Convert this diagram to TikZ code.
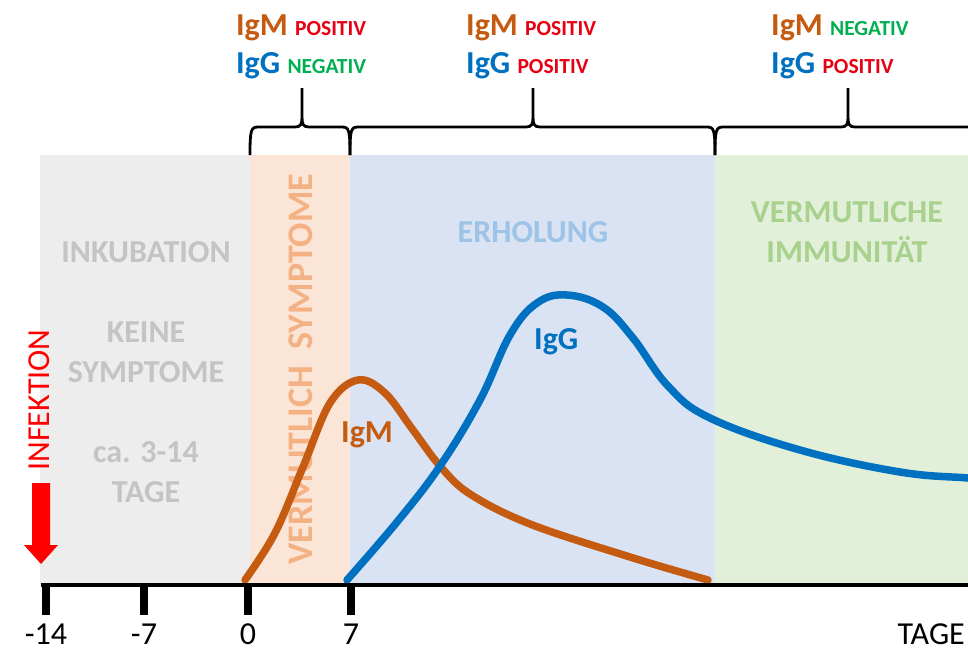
\documentclass[tikz,border=0pt]{standalone}
\usepackage{fontspec}
\setmainfont{Carlito}
\usetikzlibrary{positioning}

\definecolor{igmc}{RGB}{197,90,17}
\definecolor{iggc}{RGB}{0,112,192}
\definecolor{posc}{RGB}{230,0,18}
\definecolor{negc}{RGB}{0,176,80}
\definecolor{graybg}{RGB}{237,237,237}
\definecolor{orangebg}{RGB}{251,229,214}
\definecolor{bluebg}{RGB}{218,227,243}
\definecolor{greenbg}{RGB}{226,240,217}
\definecolor{graytx}{RGB}{196,196,196}
\definecolor{orangetx}{RGB}{244,177,131}
\definecolor{bluetx}{RGB}{157,195,230}
\definecolor{greentx}{RGB}{169,209,142}

\begin{document}
\begin{tikzpicture}[
    x=1pt, y=-1pt,
    every node/.style={inner sep=0pt},
    big/.style={font=\bfseries\fontsize{32}{38}\selectfont},
    plain/.style={font=\fontsize{32}{38}\selectfont},
    curve/.style={line width=7.5pt, line cap=round, line join=round},
    brc/.style={line width=2.8pt, line join=round}
]
\useasboundingbox (0,0) rectangle (968,651);
\clip (0,0) rectangle (968,651);

% phases
\fill[graybg]   (40,155)  rectangle (250,585);
\fill[orangebg] (250,155) rectangle (350,585);
\fill[bluebg]   (350,155) rectangle (715,585);
\fill[greenbg]  (715,155) rectangle (968,585);

% phase texts
\node[big, graytx, anchor=base] (inkub) at (146,262) {INKUBATION};
\node[big, graytx, anchor=base] (keine) at (146,342) {KEINE};
\node[big, graytx, anchor=base] (sympt) at (146,382) {SYMPTOME};
\node[big, graytx, anchor=base] (dauer) at (146,462) {ca. 3-14};
\node[big, graytx, anchor=base] (tage1) at (146,502) {TAGE};
\node[big, orangetx, rotate=90, font=\bfseries\fontsize{36}{40}\selectfont]
    (vsympt) at (301,369) {VERMUTLICH\ \ SYMPTOME};
\node[big, bluetx, anchor=base] (erhol) at (533,242) {ERHOLUNG};
\node[big, greentx, anchor=base] (verm) at (847,222) {VERMUTLICHE};
\node[big, greentx, anchor=base] (immun) at (847,262) {IMMUNITÄT};

% infection
\fill[red] (32,483) -- (50,483) -- (50,545) -- (58,545) -- (41,564)
    -- (24,545) -- (32,545) -- cycle;
\node[plain, red, rotate=90] (infekt) at (39,400) {INFEKTION};

% antibodies
\draw[curve, igmc] plot[smooth, tension=0.6] coordinates {
    (245,580) (275,533) (303,467) (330,403) (358,380) (385,393)
    (413,430) (440,466) (470,494) (530,524) (630,557) (708,580)};
\draw[curve, iggc] plot[smooth, tension=0.65] coordinates {
    (347,580) (397,522) (440,466) (480,400) (510,335) (537,303)
    (567,295) (603,307) (633,338) (668,386) (710,418) (800,450)
    (900,472) (968,478) (1000,481)};
\node[big, igmc, anchor=base west] (igm) at (341,442) {IgM};
\node[big, iggc, anchor=base west] (igg) at (534,349) {IgG};

% axis
\draw[line width=4.5pt] (41,585) -- (968,585);
\foreach \x/\t in {46/-14, 144/-7, 248/0, 351/7} {
    \draw[line width=8pt] (\x,585) -- (\x,615);
    \node[plain, anchor=base] (tick\x) at (\x,644) {\t};
}
\node[plain, anchor=base east] (tage) at (965,644) {TAGE};

% braces
\foreach \xa/\xt/\xb in {250/302/350, 350/533/715, 715/848/981} {
    \draw[brc] (\xa,155) .. controls (\xa,130) and (\xa+1,127) .. (\xa+8,127)
        -- (\xt-7,127) .. controls (\xt-1,127) and (\xt,124) .. (\xt,117)
        -- (\xt,88)
        (\xt,117) .. controls (\xt,124) and (\xt+1,127) .. (\xt+7,127)
        -- (\xb-8,127) .. controls (\xb-1,127) and (\xb,130) .. (\xb,155);
}

% test results
\node[big, igmc, anchor=base west] (igmA) at (236,35)
    {IgM \textcolor{posc}{\fontsize{21.5}{24}\selectfont POSITIV}};
\node[big, iggc, anchor=base west] (iggA) at (236,73)
    {IgG \textcolor{negc}{\fontsize{21.5}{24}\selectfont NEGATIV}};
\node[big, igmc, anchor=base west] (igmB) at (466,35)
    {IgM \textcolor{posc}{\fontsize{21.5}{24}\selectfont POSITIV}};
\node[big, iggc, anchor=base west] (iggB) at (466,73)
    {IgG \textcolor{posc}{\fontsize{21.5}{24}\selectfont POSITIV}};
\node[big, igmc, anchor=base west] (igmC) at (771,35)
    {IgM \textcolor{negc}{\fontsize{21.5}{24}\selectfont NEGATIV}};
\node[big, iggc, anchor=base west] (iggC) at (771,73)
    {IgG \textcolor{posc}{\fontsize{21.5}{24}\selectfont POSITIV}};
\end{tikzpicture}
\end{document}
